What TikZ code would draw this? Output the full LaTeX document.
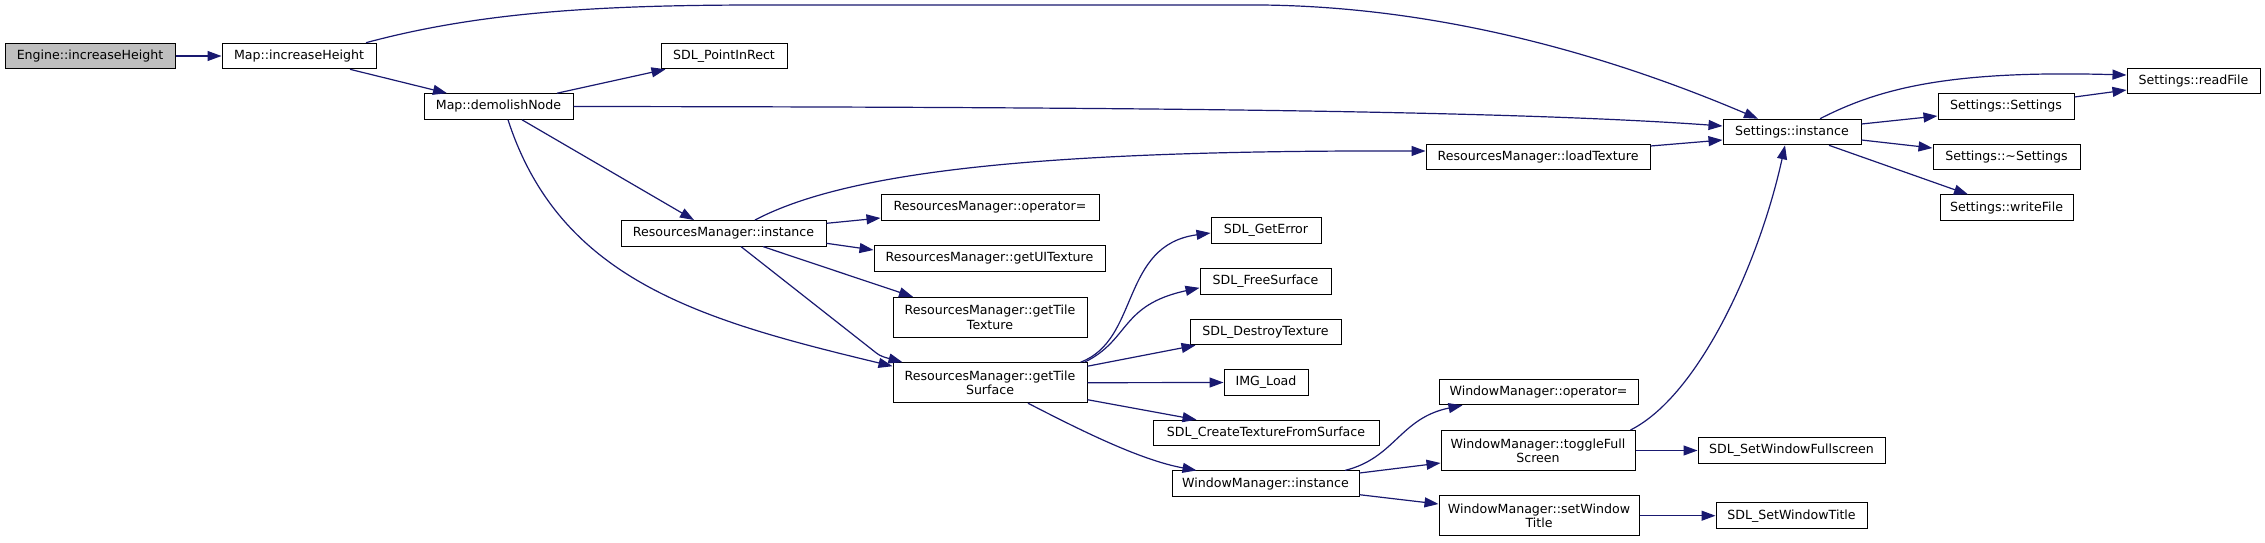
\documentclass[tikz,border=0pt]{standalone}
\usepackage{fontspec}
\setmainfont{DejaVu Sans}
\usetikzlibrary{arrows.meta}
\definecolor{edgeblue}{HTML}{191970}
\definecolor{rootgray}{HTML}{BFBFBF}
\tikzset{
  box/.style={draw=black, line width=1pt, fill=white, inner sep=0pt,
    minimum height=25.6pt, align=center,
    font=\fontsize{12.6}{14.3}\selectfont},
  tallbox/.style={box, minimum height=40pt},
  edge/.style={draw=edgeblue, line width=1.2pt,
    -{Triangle[length=14pt,width=10pt]}},
}
\begin{document}
\begin{tikzpicture}[x=1pt,y=-1pt]
\fill[white] (0,0) rectangle (2265,542);
\useasboundingbox (0,0) rectangle (2265,542);
% nodes
\node[box, fill=rootgray, minimum width=170pt] (eng) at (90,56) {Engine::increaseHeight};
\node[box, minimum width=154pt] (mapinc) at (299,56) {Map::increaseHeight};
\node[box, minimum width=126pt] (ptinrect) at (724,56) {SDL\_PointInRect};
\node[box, minimum width=149pt] (demolish) at (498.5,106.5) {Map::demolishNode};
\node[box, minimum width=138pt] (setinst) at (1792,132) {Settings::instance};
\node[box, minimum width=133pt] (readfile) at (2193.5,81) {Settings::readFile};
\node[box, minimum width=136pt] (setset) at (2006,106.5) {Settings::Settings};
\node[box, minimum width=147pt] (unset) at (2006.5,157) {Settings::\textasciitilde Settings};
\node[box, minimum width=133pt] (writefile) at (2006.5,207.7) {Settings::writeFile};
\node[box, minimum width=224pt] (loadtex) at (1538,157) {ResourcesManager::loadTexture};
\node[box, minimum width=205pt] (rminst) at (723.5,233.3) {ResourcesManager::instance};
\node[box, minimum width=218pt] (rmop) at (990,207.5) {ResourcesManager::operator=};
\node[box, minimum width=231pt] (rmui) at (989.5,258.5) {ResourcesManager::getUITexture};
\node[tallbox, minimum width=194pt] (rmtiletex) at (990,317.3) {ResourcesManager::getTile\\Texture};
\node[tallbox, minimum width=194pt] (rmtilesurf) at (990,382.7) {ResourcesManager::getTile\\Surface};
\node[box, minimum width=110pt] (geterror) at (1266,230.5) {SDL\_GetError};
\node[box, minimum width=131pt] (freesurf) at (1265.5,281.3) {SDL\_FreeSurface};
\node[box, minimum width=151pt] (destroytex) at (1265.5,332) {SDL\_DestroyTexture};
\node[box, minimum width=84pt] (imgload) at (1266,382.5) {IMG\_Load};
\node[box, minimum width=226pt] (createtex) at (1266,433) {SDL\_CreateTextureFromSurface};
\node[box, minimum width=187pt] (wminst) at (1265.5,483.7) {WindowManager::instance};
\node[box, minimum width=199pt] (wmop) at (1538.5,392) {WindowManager::operator=};
\node[tallbox, minimum width=194pt] (wmtoggle) at (1538,450.5) {WindowManager::toggleFull\\Screen};
\node[box, minimum width=187pt] (setfull) at (1791.5,450.5) {SDL\_SetWindowFullscreen};
\node[tallbox, minimum width=200pt] (wmtitle) at (1539,515.7) {WindowManager::setWindow\\Title};
\node[box, minimum width=151pt] (settitle) at (1791.5,515.7) {SDL\_SetWindowTitle};
% edges
\draw[edge] (eng.east) -- (mapinc.west);
\draw[edge] ([xshift=67pt]mapinc.north) .. controls (480,12) and (600,5) .. (760,5) -- (1262,5) .. controls (1450,7) and (1620,60) .. ([xshift=-34pt]setinst.north);
\draw[edge] ([xshift=51pt]mapinc.south) -- ([xshift=-51.5pt]demolish.north);
\draw[edge] ([xshift=58.5pt]demolish.north) -- ([xshift=5pt]ptinrect.south west);
\draw[edge] (demolish.east) .. controls (1100,107) and (1500,110) .. ([yshift=6pt]setinst.west);
\draw[edge] ([xshift=23.5pt]demolish.south) -- ([xshift=-29.5pt]rminst.north);
\draw[edge] ([xshift=9.5pt]demolish.south) .. controls (560,280) and (700,320) .. ([yshift=-4pt]rmtilesurf.north west);
\draw[edge] ([xshift=31.5pt]rminst.north) .. controls (850,170) and (1050,150) .. ([yshift=6pt]loadtex.west);
\draw[edge] ([yshift=11pt]loadtex.east) -- ([yshift=-8pt]setinst.west);
\draw[edge] ([xshift=28pt]setinst.north) .. controls (1880,88) and (1950,70) .. ([yshift=6pt]readfile.west);
\draw[edge] ([yshift=9.5pt]setset.east) -- ([yshift=-9pt]readfile.west);
\draw[edge] ([yshift=8pt]setinst.east) -- ([yshift=-9.5pt]setset.west);
\draw[edge] ([yshift=-8pt]setinst.east) -- ([yshift=9pt]unset.west);
\draw[edge] ([xshift=37pt]setinst.south) -- ([xshift=-38.5pt]writefile.north);
\draw[edge] ([yshift=10pt]rminst.east) -- ([yshift=-10.5pt]rmop.west);
\draw[edge] ([yshift=-10pt]rminst.east) -- ([yshift=8.5pt]rmui.west);
\draw[edge] ([xshift=39.5pt]rminst.south) -- ([xshift=-77pt]rmtiletex.north);
\draw[edge] ([xshift=17.5pt]rminst.south) -- (870,348) .. controls (880,356) .. ([xshift=10pt]rmtilesurf.north west);
\draw[edge] ([xshift=-7pt]rmtilesurf.north east) .. controls (1140,340) and (1120,245) .. ([yshift=-2.5pt]geterror.west);
\draw[edge] ([xshift=-3pt]rmtilesurf.north east) .. controls (1130,340) and (1120,305) .. ([yshift=-6.5pt]freesurf.west);
\draw[edge] ([yshift=16.5pt]rmtilesurf.east) -- ([xshift=6pt]destroytex.south west);
\draw[edge] (rmtilesurf.east) -- (imgload.west);
\draw[edge] ([yshift=-17pt]rmtilesurf.east) -- ([xshift=44pt]createtex.north west);
\draw[edge] ([xshift=38pt]rmtilesurf.south) .. controls (1080,430) and (1140,460) .. ([xshift=25pt]wminst.north west);
\draw[edge] ([xshift=79.5pt]wminst.north) .. controls (1395,458) and (1400,418) .. ([xshift=24pt]wmop.south west);
\draw[edge] ([yshift=10.7pt]wminst.east) -- ([yshift=-12.5pt]wmtoggle.west);
\draw[edge] ([yshift=-11pt]wminst.east) -- ([yshift=11.7pt]wmtitle.west);
\draw[edge] ([xshift=-5pt]wmtoggle.north east) .. controls (1700,395) and (1760,260) .. ([xshift=-7pt]setinst.south);
\draw[edge] (wmtoggle.east) -- (setfull.west);
\draw[edge] (wmtitle.east) -- (settitle.west);
\end{tikzpicture}
\end{document}
